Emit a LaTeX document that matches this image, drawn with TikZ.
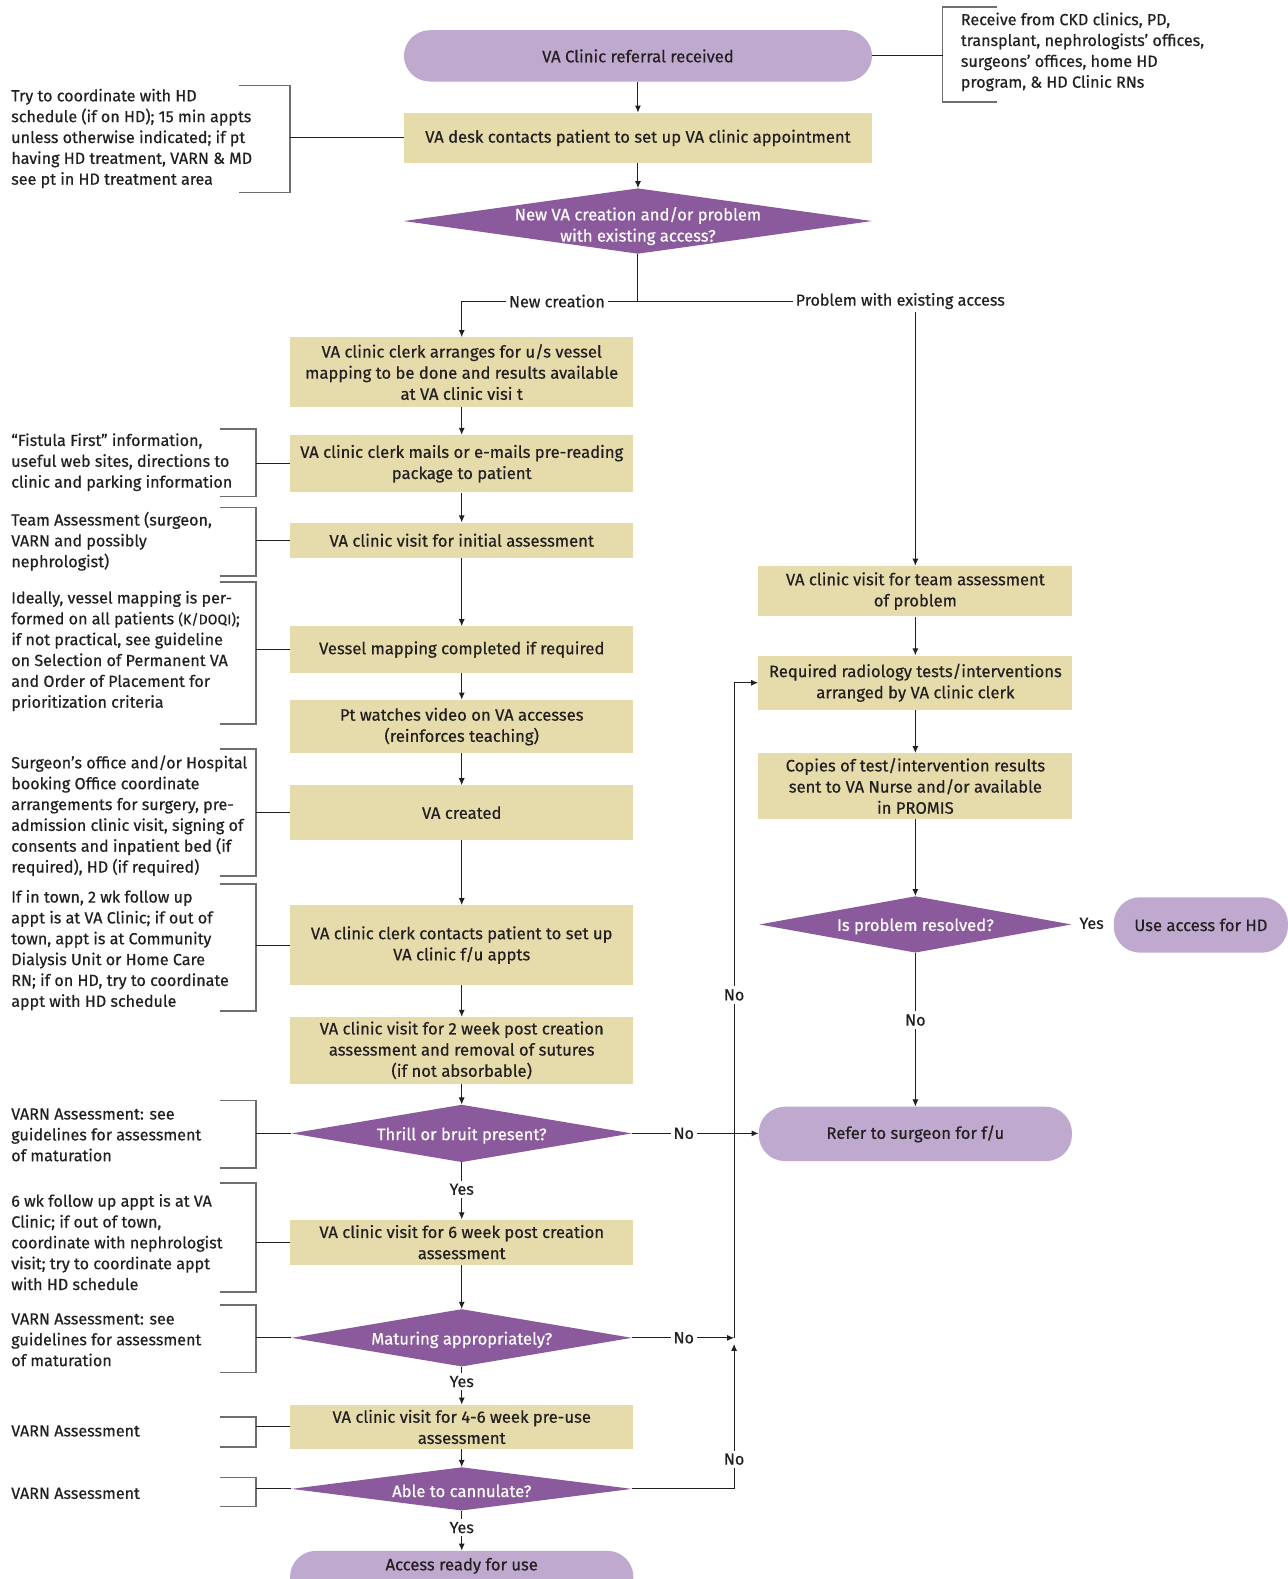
\documentclass[tikz,border=0pt]{standalone}
\usepackage{fontspec}
\setmainfont{Fira Sans}[FakeBold=0.5]
\usetikzlibrary{shapes.geometric,arrows.meta}

\definecolor{pillpurple}{HTML}{C0A9CF}
\definecolor{boxtan}{HTML}{E6DCAB}
\definecolor{decpurple}{HTML}{8A5A9C}
\definecolor{inkdark}{HTML}{231F20}
\definecolor{brkgray}{HTML}{6D6E71}

\tikzset{
	txt/.style={font=\fontsize{16.5}{21}\selectfont, text=inkdark},
	ntxt/.style={font=\fontsize{16}{20.7}\selectfont, text=inkdark},
	proc/.style={txt, rectangle, fill=boxtan, align=center, inner sep=0pt, minimum width=341pt},
	rproc/.style={proc, minimum width=312pt},
	pill/.style={txt, rectangle, rounded corners=26pt, fill=pillpurple, align=center, inner sep=0pt},
	decision/.style={diamond, fill=decpurple, inner sep=0pt, minimum width=338pt},
	dtext/.style={txt, text=white, align=center, yshift=-2pt},
	note/.style={ntxt, align=left, anchor=west, inner sep=0pt},
	line/.style={draw=inkdark, line width=1pt},
	arr/.style={line, -{Latex[length=7pt,width=6pt]}},
	brk/.style={draw=brkgray, line width=1.6pt},
	lbl/.style={ntxt, fill=white, inner sep=3pt}
}

\begin{document}
\begin{tikzpicture}[x=1pt, y=-1pt]

	\useasboundingbox (0,0) rectangle (1279,1568);

	% top of the chart
	\node[pill, minimum width=465pt, minimum height=51pt] (ref) at (633.5, 55.5) {VA Clinic referral received};
	\node[proc, minimum width=465pt, minimum height=50pt] (desk) at (633.5, 137) {VA desk contacts patient to set up VA clinic appointment};
	\node[decision, minimum width=465pt, minimum height=65pt,
		label={[dtext, name=newq-t, yshift=-3pt]center:New VA creation and/or problem\\with existing access?}] (newq) at (633.5, 219.5) {};

	% new creation column
	\node[proc, minimum height=69pt] (map) at (458.5, 369.5) {VA clinic clerk arranges for u/s vessel\\mapping to be done and results available\\at VA clinic visi t};
	\node[proc, minimum height=57pt] (mail) at (458.5, 460.5) {VA clinic clerk mails or e-mails pre-reading\\package to patient};
	\node[proc, minimum height=35pt] (init) at (458.5, 536.5) {VA clinic visit for initial assessment};
	\node[proc, minimum height=46pt] (vmap) at (458.5, 645) {Vessel mapping completed if required};
	\node[proc, minimum height=53pt] (video) at (458.5, 721.5) {Pt watches video on VA accesses\\(reinforces teaching)};
	\node[proc, minimum height=54pt] (made) at (458.5, 807) {VA created};
	\node[proc, minimum height=79pt] (fuset) at (458.5, 938.5) {VA clinic clerk contacts patient to set up\\VA clinic f/u appts};
	\node[proc, minimum height=66pt] (wk2) at (458.5, 1043) {VA clinic visit for 2 week post creation\\assessment and removal of sutures\\(if not absorbable)};
	\node[decision, minimum height=57pt,
		label={[dtext, name=thrill-t]center:Thrill or bruit present?}] (thrill) at (458.5, 1125.5) {};
	\node[proc, minimum height=45pt] (wk6) at (458.5, 1233.5) {VA clinic visit for 6 week post creation\\assessment};
	\node[decision, minimum height=57pt,
		label={[dtext, name=mature-t]center:Maturing appropriately?}] (mature) at (458.5, 1328.5) {};
	\node[proc, minimum height=44pt] (preuse) at (458.5, 1417) {VA clinic visit for 4-6 week pre-use\\assessment};
	\node[decision, minimum height=43pt,
		label={[dtext, name=cann-t]center:Able to cannulate?}] (cann) at (458.5, 1478.5) {};
	\node[pill, minimum width=341pt, minimum height=56pt,
		label={[txt, name=ready-t, yshift=13pt]center:Access ready for use}] (ready) at (458.5, 1568) {};

	% problem column
	\node[rproc, minimum height=50pt] (team) at (909, 587) {VA clinic visit for team assessment\\of problem};
	\node[rproc, minimum height=54pt] (radio) at (909, 678) {Required radiology tests/interventions\\arranged by VA clinic clerk};
	\node[rproc, minimum height=65pt] (copies) at (909, 780.5) {Copies of test/intervention results\\sent to VA Nurse and/or available\\in PROMIS};
	\node[decision, minimum width=310pt, minimum height=56pt,
		label={[dtext, name=solved-t]center:Is problem resolved?}] (solved) at (909, 918) {};
	\node[pill, minimum width=173pt, minimum height=55pt] (usehd) at (1192.5, 918.5) {Use access for HD};
	\node[pill, minimum width=311pt, minimum height=54pt] (surg) at (909, 1126) {Refer to surgeon for f/u};

	% connectors
	\coordinate (split) at (633.5, 299);
	\coordinate (loop) at (729, 1328.5);
	\draw[arr] (ref) -- (desk);
	\draw[arr] (desk) -- (newq);
	\draw[line] (newq.south) -- (split);
	\draw[arr] (split) -| (map.north);
	\draw[arr] (split) -| (team.north);
	\draw[arr] (map) -- (mail);
	\draw[arr] (mail) -- (init);
	\draw[arr] (init) -- (vmap);
	\draw[arr] (vmap) -- (video);
	\draw[arr] (video) -- (made);
	\draw[arr] (made) -- (fuset);
	\draw[arr] (fuset) -- (wk2);
	\draw[arr] (wk2) -- (thrill.north);
	\draw[arr] (thrill.south) -- (wk6);
	\draw[arr] (wk6) -- (mature.north);
	\draw[arr] (mature.south) -- (preuse);
	\draw[arr] (preuse) -- (cann.north);
	\draw[arr] (cann.south) -- (ready.north);
	\draw[arr] (thrill.east) -- (thrill.east -| surg.west);
	\draw[arr] (mature.east) -- (loop);
	\draw[arr] (cann.east) -| ([yshift=-6pt]loop);
	\draw[arr] (loop) |- (radio.west);
	\draw[arr] (team) -- (radio);
	\draw[arr] (radio) -- (copies);
	\draw[arr] (copies) -- (solved.north);
	\draw[arr] (solved.south) -- (surg);

	% labels on the connectors
	\node[lbl] (l-new) at (553, 299) {New creation};
	\node[lbl] (l-prob) at (894, 299) {Problem with existing access};
	\node[lbl] (l-y1) at (458.5, 1181) {Yes};
	\node[lbl] (l-y2) at (458.5, 1372) {Yes};
	\node[lbl] (l-y3) at (458.5, 1517) {Yes};
	\node[lbl] (l-n1) at (679, 1125.5) {No};
	\node[lbl] (l-n2) at (679, 1328.5) {No};
	\node[lbl] (l-n3) at (729, 1449) {No};
	\node[lbl] (l-n4) at (729, 988) {No};
	\node[lbl] (l-n5) at (909, 1013) {No};
	\node[lbl] (l-y4) at (1084, 917) {Yes};

	% side notes
	\node[note] (n-src) at (954, 51.5) {Receive from CKD clinics, PD,\\transplant, nephrologists’ offices,\\surgeons’ offices, home HD\\program, \& HD Clinic RNs};
	\node[note] (n-appt) at (11, 137.5) {Try to coordinate with HD\\schedule (if on HD); 15 min appts\\unless otherwise indicated; if pt\\having HD treatment, VARN \& MD\\see pt in HD treatment area};
	\node[note] (n-info) at (11, 459) {“Fistula First” information,\\useful web sites, directions to\\clinic and parking information};
	\node[note] (n-team) at (11, 537.5) {Team Assessment (surgeon,\\VARN and possibly\\nephrologist)};
	\node[note] (n-map) at (11, 646.5) {Ideally, vessel mapping is per-\\formed on all patients {\fontsize{14}{20.7}\selectfont(K/DOQI)};\\if not practical, see guideline\\on Selection of Permanent VA\\and Order of Placement for\\prioritization criteria};
	\node[note] (n-book) at (11, 810) {Surgeon’s office and/or Hospital\\booking Office coordinate\\arrangements for surgery, pre-\\admission clinic visit, signing of\\consents and inpatient bed (if\\required), HD (if required)};
	\node[note] (n-fu2) at (11, 943.5) {If in town, 2 wk follow up\\appt is at VA Clinic; if out of\\town, appt is at Community\\Dialysis Unit or Home Care\\RN; if on HD, try to coordinate\\appt with HD schedule};
	\node[note] (n-varn1) at (11, 1127) {VARN Assessment: see\\guidelines for assessment\\of maturation};
	\node[note] (n-fu6) at (11, 1233.5) {6 wk follow up appt is at VA\\Clinic; if out of town,\\coordinate with nephrologist\\visit; try to coordinate appt\\with HD schedule};
	\node[note] (n-varn2) at (11, 1330.5) {VARN Assessment: see\\guidelines for assessment\\of maturation};
	\node[note] (n-varn3) at (11, 1421) {VARN Assessment};
	\node[note] (n-varn4) at (11, 1483) {VARN Assessment};

	% brackets round the notes
	\draw[brk] (990, 7) -| (936, 101) -- (990, 101);
	\draw[brk] (237, 85) -| (288, 191) -- (237, 191);
	\foreach \yt/\yb in {426/493, 504/572, 578/719, 744/870, 878/1004, 1093/1160, 1175/1283, 1296/1363, 1407/1437, 1467/1496}
		\draw[brk] (218, \yt) -| (254, \yb) -- (218, \yb);

	\coordinate (c-src) at (936, 55.5);
	\coordinate (c-appt) at (288, 137);
	\coordinate (brkx) at (254, 0);
	\draw[line] (ref.east) -- (c-src);
	\draw[line] (c-appt) -- (desk.west);
	\foreach \nd in {mail, init, vmap, made, fuset, thrill, wk6, mature, preuse, cann}
		\draw[line] (\nd.west) -- (\nd.west -| brkx);

\end{tikzpicture}
\end{document}
